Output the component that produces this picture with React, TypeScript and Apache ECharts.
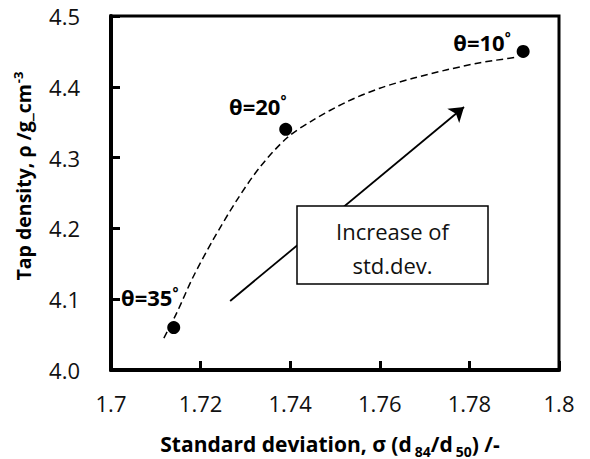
import React, { useEffect, useRef } from "react";
import * as echarts from "echarts";

const angleLabels = ["10", "20", "35"];
const stdDev = [1.792, 1.739, 1.714];
const tapDensity = [4.45, 4.34, 4.06];

const trendX = [1.7118, 1.7147, 1.7183, 1.7228, 1.7281, 1.7333, 1.7393, 1.7451, 1.7527, 1.76, 1.7674, 1.775, 1.7824, 1.7908];
const trendY = [4.045, 4.081, 4.131, 4.184, 4.24, 4.287, 4.328, 4.353, 4.379, 4.398, 4.412, 4.424, 4.434, 4.442];

const arrowFrom = [1.7266, 4.0975];
const arrowTo = [1.7788, 4.3715];

const boxLines = ["Increase of", "std.dev."];

const FONT = "'Open Sans', sans-serif";

export default function App() {
  const ref = useRef<HTMLDivElement>(null);
  useEffect(() => {
    if (!ref.current) return;
    const chart = echarts.init(ref.current, null, { renderer: "svg" });
    const labelLayout = [
      { position: "left", offset: [-1, -9] },
      { position: "top", offset: [-28, 0] },
      { position: "top", offset: [-24, -7] },
    ];
    const supStyle = { fontSize: 14, fontWeight: "bold", fontFamily: FONT, color: "#000", verticalAlign: "top", lineHeight: 14, padding: [0, 0, 0, 0] };
    const mainBold = { fontSize: 22, fontWeight: "bold", fontFamily: FONT, color: "#000", lineHeight: 24 };
    chart.setOption({
      animation: false,
      backgroundColor: "#fff",
      grid: {
        left: 111,
        right: 31,
        top: 16,
        bottom: 89,
        show: true,
        borderColor: "#000",
        borderWidth: 3,
        outerBoundsMode: "none",
      },
      xAxis: {
        type: "value",
        min: 1.7,
        max: 1.8,
        interval: 0.02,
        splitLine: { show: false },
        axisLine: { lineStyle: { color: "#000", width: 4 } },
        axisTick: { inside: true, length: 9, lineStyle: { color: "#000", width: 3 } },
        axisLabel: {
          margin: 22,
          fontSize: 22,
          fontFamily: FONT,
          color: "#111",
          formatter: (v: number) => String(parseFloat(v.toFixed(2))),
        },
        name: "{b|Standard deviation, σ (d}{sub|84}{b|/d}{sub|50}{b|) /-}",
        nameLocation: "middle",
        nameGap: 62,
        nameTextStyle: {
          padding: [0, 10, 0, 0],
          rich: {
            b: { fontSize: 21, fontWeight: "bold", fontFamily: FONT, color: "#000", lineHeight: 24 },
            sub: { fontSize: 14, fontWeight: "bold", fontFamily: FONT, color: "#000", lineHeight: 14, verticalAlign: "top", padding: [12, 0, 0, 3] },
          },
        },
      },
      yAxis: {
        type: "value",
        min: 4.0,
        max: 4.5,
        interval: 0.1,
        splitLine: { show: false },
        axisLine: { lineStyle: { color: "#000", width: 4 } },
        axisTick: { inside: true, length: 9, lineStyle: { color: "#000", width: 3 } },
        axisLabel: {
          margin: 31,
          fontSize: 22,
          fontFamily: FONT,
          color: "#111",
          formatter: (v: number) => v.toFixed(1),
        },
        name: "{b|Tap density, ρ /g_cm}{sup|-3}",
        nameLocation: "middle",
        nameRotate: 90,
        nameGap: 76,
        nameTextStyle: {
          padding: [0, 0, 0, 34],
          rich: {
            b: { fontSize: 19.5, fontWeight: "bold", fontFamily: FONT, color: "#000", lineHeight: 24 },
            sup: { fontSize: 13, fontWeight: "bold", fontFamily: FONT, color: "#000", lineHeight: 13, verticalAlign: "top", padding: [0, 0, 0, 1] },
          },
        },
      },
      series: [
        {
          type: "line",
          data: trendX.map((x, i) => [x, trendY[i]]),
          smooth: 0.3,
          showSymbol: false,
          silent: true,
          lineStyle: { color: "#000", width: 1.5, type: [7, 4] },
          z: 2,
          markLine: {
            silent: true,
            symbol: ["none", "arrow"],
            symbolSize: 14,
            label: { show: false },
            lineStyle: { color: "#000", width: 1.8, type: "solid" },
            emphasis: { disabled: true },
            data: [[{ coord: arrowFrom }, { coord: arrowTo }]],
          },
        },
        {
          type: "scatter",
          symbol: "circle",
          symbolSize: 13,
          itemStyle: { color: "#000", opacity: 1 },
          z: 3,
          data: stdDev.map((x, i) => ({
            value: [x, tapDensity[i]],
            label: {
              show: true,
              position: labelLayout[i].position,
              offset: labelLayout[i].offset,
              distance: 5,
              opacity: 1,
              formatter: `{a|θ=${angleLabels[i]}}{s|°}`,
              rich: { a: mainBold, s: supStyle },
            },
          })),
        },
      ],
      graphic: [
        {
          type: "rect",
          z: 100,
          zlevel: 0,
          shape: { x: 297, y: 206, width: 191, height: 78 },
          style: { fill: "#fff", stroke: "#000", lineWidth: 1.5 },
        },
        {
          type: "text",
          z: 101,
          x: 392.5,
          y: 248,
          style: {
            text: boxLines.join("\n"),
            fontSize: 22,
            fontFamily: FONT,
            fill: "#111",
            align: "center",
            verticalAlign: "middle",
            lineHeight: 34,
          },
        },
      ],
    });
    return () => chart.dispose();
  }, []);
  return <div ref={ref} style={{ position: "fixed", left: 0, top: 0, width: 590, height: 459 }} />;
}
